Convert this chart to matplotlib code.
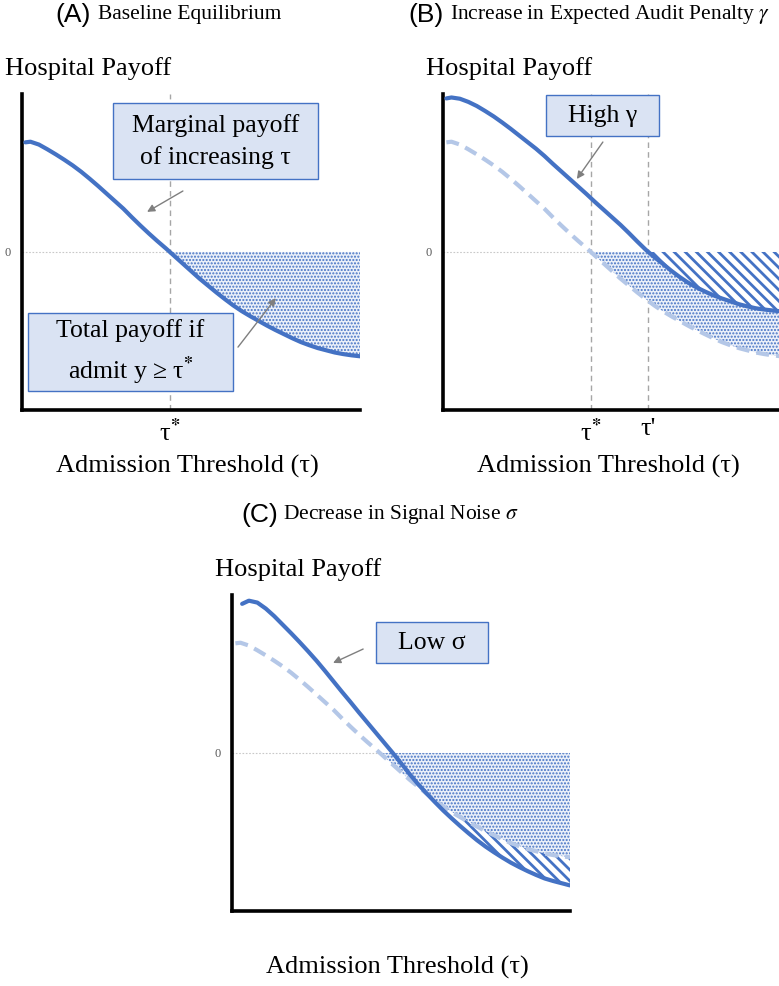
import numpy as np
import matplotlib
matplotlib.use("Agg")
import matplotlib.pyplot as plt
from matplotlib.patches import Rectangle

plt.rcParams["font.family"] = ["Liberation Serif", "DejaVu Serif"]
plt.rcParams["mathtext.fontset"] = "stix"

# Curves (x = admission threshold, y = hospital payoff)
tau = [0.1, 0.25, 0.5, 0.75, 1.0, 1.25, 1.5, 1.75, 2.0, 2.25, 2.5, 2.75,
       3.0, 3.25, 3.5, 3.75, 4.0, 4.25, 4.5, 4.75, 5.0, 5.25, 5.5, 5.75,
       6.0, 6.25, 6.5, 6.75, 7.0, 7.25, 7.5, 7.75, 8.0, 8.25, 8.5, 8.75,
       9.0, 9.25, 9.5, 9.75, 10.0]
baseline = [3.47, 3.49, 3.40, 3.25, 3.09, 2.92, 2.74, 2.54, 2.32, 2.09, 1.85, 1.61,
            1.37, 1.10, 0.84, 0.59, 0.35, 0.12, -0.12, -0.36, -0.60, -0.84, -1.06, -1.28,
            -1.49, -1.69, -1.87, -2.03, -2.18, -2.33, -2.47, -2.60, -2.73, -2.85, -2.95, -3.04,
            -3.11, -3.18, -3.23, -3.27, -3.30]
high_gamma = [4.86, 4.89, 4.85, 4.75, 4.62, 4.46, 4.29, 4.10, 3.90, 3.69, 3.48, 3.27,
              3.04, 2.79, 2.55, 2.31, 2.07, 1.83, 1.58, 1.34, 1.10, 0.86, 0.60, 0.33,
              0.07, -0.16, -0.37, -0.59, -0.79, -0.97, -1.12, -1.25, -1.37, -1.47, -1.56, -1.65,
              -1.72, -1.78, -1.82, -1.85, -1.88]
tau_low = [0.3, 0.5, 0.75, 1.0, 1.25, 1.5, 1.75, 2.0, 2.25, 2.5, 2.75,
           3.0, 3.25, 3.5, 3.75, 4.0, 4.25, 4.5, 4.75, 5.0, 5.25, 5.5, 5.75,
           6.0, 6.25, 6.5, 6.75, 7.0, 7.25, 7.5, 7.75, 8.0, 8.25, 8.5, 8.75,
           9.0, 9.25, 9.5, 9.75, 10.0]
low_sigma = [4.72, 4.82, 4.76, 4.57, 4.33, 4.06, 3.79, 3.51, 3.22, 2.92, 2.60,
             2.27, 1.94, 1.62, 1.29, 0.97, 0.65, 0.33, 0.01, -0.32, -0.66, -0.98, -1.27,
             -1.55, -1.82, -2.07, -2.31, -2.54, -2.76, -2.96, -3.14, -3.31, -3.47, -3.61, -3.74,
             -3.86, -3.97, -4.05, -4.12, -4.19]

tau_star = 4.38
tau_prime = 6.07

BLUE = "#4472C4"
LIGHT = "#B4C7E7"
BOXFILL = "#DAE3F3"
GREY = "#7f7f7f"

W, H = 779, 987
fig = plt.figure(figsize=(W / 100, H / 100), dpi=100)


def make_axes(left, top, width=338, height=316):
    ax = fig.add_axes([left / W, 1 - (top + height) / H, width / W, height / H])
    ax.set_xlim(0, 10)
    ax.set_ylim(-5, 5)
    for s in ["top", "right"]:
        ax.spines[s].set_visible(False)
    for s in ["left", "bottom"]:
        ax.spines[s].set_linewidth(2.6)
        ax.spines[s].set_color("black")
    ax.set_yticks([])
    ax.set_xticks([])
    ax.axhline(0, color="#c8c8c8", lw=0.8, ls=(0, (1.5, 1.5)), zorder=1)
    ax.text(-14 / 338, 0, "0", transform=ax.get_yaxis_transform(),
            ha="center", va="center", fontsize=9, color="#595959")
    ax.text(-0.05, 1.085, "Hospital Payoff", transform=ax.transAxes,
            ha="left", va="center", fontsize=19)
    ax.text(0.488, -0.177, "Admission Threshold (τ)", transform=ax.transAxes,
            ha="center", va="center", fontsize=19)
    return ax


def vline(ax, x):
    ax.axvline(x, color="#a6a6a6", lw=1, ls=(0, (4, 3)), zorder=1)


def tick_label(ax, x, s):
    ax.annotate(s, xy=(x, 0), xycoords=("data", "axes fraction"),
                xytext=(0, -5), textcoords="offset points",
                ha="center", va="top", fontsize=19)


def box(ax, x0, y0, x1, y1, s):
    ax.add_patch(Rectangle((x0, y0), x1 - x0, y1 - y0, facecolor=BOXFILL,
                           edgecolor=BLUE, lw=1, zorder=5))
    ax.text((x0 + x1) / 2, (y0 + y1) / 2, s, ha="center", va="center",
            fontsize=18.5, linespacing=1.5, zorder=6)


def arrow(ax, tail, head):
    ax.annotate("", xy=head, xytext=tail, zorder=6,
                arrowprops=dict(arrowstyle="-|>", color=GREY, lw=1,
                                mutation_scale=11, shrinkA=0, shrinkB=0))


def dots(ax, x, y1, y2, where):
    c = ax.fill_between(x, y1, y2, where=where, interpolate=True,
                        facecolor="#EBF0F9", edgecolor=BLUE, lw=0,
                        hatch=".....", zorder=1.5)
    if hasattr(c, "set_hatch_linewidth"):
        c.set_hatch_linewidth(1.0)
    return c


def stripes(ax, x, y1, y2, where):
    c = ax.fill_between(x, y1, y2, where=where, interpolate=True,
                        facecolor="white", edgecolor=BLUE, lw=0,
                        hatch="\\\\\\", zorder=1.7)
    if hasattr(c, "set_hatch_linewidth"):
        c.set_hatch_linewidth(2.0)
    return c


def title(x_lab, x_txt, y, lab, txt):
    fig.text(x_lab / W, 1 - y / H, lab, family="Liberation Sans",
             fontsize=19, ha="left", va="center")
    fig.text(x_txt / W, 1 - y / H, txt, fontsize=15.5, ha="left", va="center")


STAR = r"τ$^{\mathbf{*}}$"

x = np.array(tau)
base = np.array(baseline)
hg = np.array(high_gamma)
xl = np.array(tau_low)
lsg = np.array(low_sigma)

# (A) Baseline equilibrium
axA = make_axes(22, 95)
vline(axA, tau_star)
dots(axA, x, base, 0, base <= 0)
axA.plot(x, base, color=BLUE, lw=3, solid_capstyle="round", zorder=3)
tick_label(axA, tau_star, STAR)
box(axA, 2.69, 2.31, 8.76, 4.72, "Marginal payoff\nof increasing τ")
box(axA, 0.18, -4.40, 6.24, -1.93, "Total payoff if\nadmit y ≥ " + STAR)
arrow(axA, (4.76, 1.93), (3.70, 1.27))
arrow(axA, (6.39, -3.01), (7.51, -1.46))
title(55, 98, 15, "(A)", "Baseline Equilibrium")

# (B) Increase in expected audit penalty
axB = make_axes(443, 95)
vline(axB, tau_star)
vline(axB, tau_prime)
dots(axB, x, base, np.minimum(hg, 0), base <= 0)
stripes(axB, x, hg, 0, hg <= 0)
axB.plot(x, base, color=LIGHT, lw=3, ls=(0, (3.1, 1.7)), zorder=2.5)
axB.plot(x, hg, color=BLUE, lw=3, solid_capstyle="round", zorder=3)
tick_label(axB, tau_star, STAR)
tick_label(axB, tau_prime, "τ'")
box(axB, 3.05, 3.67, 6.39, 4.97, "High γ")
arrow(axB, (4.73, 3.48), (3.96, 2.31))
title(408, 450, 15, "(B)", r"Increase in Expected Audit Penalty $\gamma$")

# (C) Decrease in signal noise
axC = make_axes(232, 596)
dots(axC, x, base, 0, base <= 0)
stripes(axC, x[2:], base[2:], lsg[1:], (lsg[1:] < base[2:]) & (xl[1:] > tau_star))
axC.plot(x, base, color=LIGHT, lw=3, ls=(0, (3.1, 1.7)), zorder=2.5)
axC.plot(xl, lsg, color=BLUE, lw=3, solid_capstyle="round", zorder=3)
box(axC, 4.26, 2.85, 7.57, 4.15, "Low σ")
arrow(axC, (3.88, 3.29), (2.99, 2.85))
title(241, 283, 515, "(C)", r"Decrease in Signal Noise $\sigma$")

fig.savefig("out.png", dpi=100)
